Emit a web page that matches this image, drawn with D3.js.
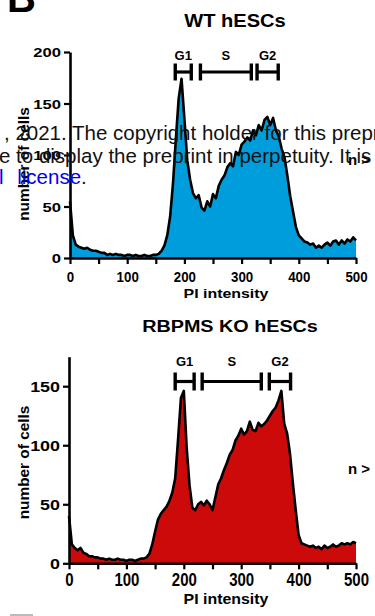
<!DOCTYPE html>
<html>
<head>
<meta charset="utf-8">
<script src="https://cdn.jsdelivr.net/npm/d3@7"></script>
<style>
  html, body { margin: 0; padding: 0; background: #fff; }
  svg { display: block; font-family: "Liberation Sans", Arial, sans-serif; }
</style>
</head>
<body>
<div id="chart-area"></div>
<script>
// histogram bins (PI intensity), step 5
const piBins = d3.range(0, 505, 5);

const wtCounts = [
  55, 22, 13, 11, 10, 9, 10, 8, 7, 7,
  6, 5, 5, 3, 4, 3, 4, 3, 3, 2,
  3, 3, 2, 3, 2, 2, 3, 2, 2, 3,
  3, 4, 7, 12, 22, 40, 72, 115, 155, 174,
  135, 95, 76, 63, 58, 61, 49, 46, 55, 50,
  62, 58, 70, 76, 80, 88, 92, 89, 103, 100,
  110, 113, 117, 114, 124, 119, 129, 124, 134, 137,
  129, 136, 124, 118, 106, 98, 80, 60, 45, 30,
  22, 19, 16, 15, 13, 14, 10, 12, 10, 13,
  15, 12, 16, 17, 13, 17, 14, 18, 16, 20,
  17
];

const koCounts = [
  40, 16, 13, 11, 13, 9, 8, 6, 6, 5,
  5, 4, 4, 3, 4, 3, 3, 4, 3, 3,
  2, 3, 3, 2, 3, 4, 4, 5, 8, 16,
  27, 37, 42, 45, 48, 53, 60, 72, 105, 140,
  146, 98, 66, 47, 45, 50, 52, 49, 53, 50,
  45, 56, 67, 72, 79, 85, 92, 96, 104, 108,
  114, 109, 112, 120, 113, 112, 119, 116, 118, 121,
  125, 129, 132, 138, 146, 118, 110, 93, 68, 45,
  24, 17, 16, 15, 14, 15, 13, 14, 12, 15,
  13, 14, 16, 14, 15, 17, 16, 17, 16, 18,
  17
];

const phases = ['G1', 'S', 'G2'];
const wtGates = [[184, 212], [228, 317], [327, 364]];
const koGates = [[185, 218], [232, 335], [349, 386]];

const xTicks = [0, 50, 100, 150, 200, 250, 300, 350, 400, 450, 500];
const wtYTicks = [0, 50, 100, 150, 200];
const koYTicks = [0, 50, 100, 150];

const svg = d3.select('#chart-area')
  .append('svg')
  .attr('width', 375)
  .attr('height', 616);

// text with separate horizontal / vertical stretch
function label(parent, x, y, str, o) {
  let tr = `translate(${x},${y})`;
  if (o.rot) tr += ` rotate(${o.rot})`;
  tr += ` scale(${o.sx || 1},${o.sy || 1})`;
  return parent.append('text')
    .attr('transform', tr)
    .attr('text-anchor', o.anchor || 'middle')
    .attr('font-size', o.size)
    .attr('font-weight', o.weight || 'bold')
    .attr('fill', o.fill || '#000')
    .text(str);
}

function drawPanel(cfg) {
  const x = d3.scaleLinear().domain([0, 500]).range([cfg.left, 356]);
  const y = d3.scaleLinear().domain([0, cfg.yMax]).range([cfg.bottom, cfg.top]);
  const g = svg.append('g');

  const area = d3.area()
    .x((d, i) => x(piBins[i]))
    .y0(y(0))
    .y1(d => y(d));
  const line = d3.line()
    .x((d, i) => x(piBins[i]))
    .y(d => y(d));

  g.append('path')
    .datum(cfg.counts)
    .attr('d', area)
    .attr('fill', cfg.color);

  g.append('path')
    .datum(cfg.counts)
    .attr('d', line)
    .attr('fill', 'none')
    .attr('stroke', '#000')
    .attr('stroke-width', 2.6)
    .attr('stroke-linejoin', 'round');

  // axes
  const xAxisCall = d3.axisBottom(x)
    .tickValues(xTicks)
    .tickSize(6)
    .tickSizeOuter(0)
    .tickFormat(d => d % 100 === 0 ? d : '');
  const yAxisCall = d3.axisLeft(y)
    .tickValues(cfg.yTicks)
    .tickSize(6)
    .tickSizeOuter(0);

  const xAxisGroup = g.append('g')
    .attr('transform', `translate(0, ${cfg.bottom})`)
    .call(xAxisCall);
  const yAxisGroup = g.append('g')
    .attr('transform', `translate(${cfg.left}, 0)`)
    .call(yAxisCall);

  [xAxisGroup, yAxisGroup].forEach(ax => {
    ax.select('.domain').attr('stroke-width', 2.6).attr('stroke', '#000');
    ax.selectAll('.tick line').attr('stroke-width', 2.2).attr('stroke', '#000');
    ax.selectAll('text')
      .attr('font-family', null)
      .attr('font-weight', 'bold')
      .attr('fill', '#000');
  });

  xAxisGroup.selectAll('text')
    .attr('font-size', cfg.xTickSize)
    .attr('dy', null)
    .attr('y', 0)
    .attr('transform', `translate(0, ${cfg.xTickBase}) scale(${cfg.xTickSx}, ${cfg.xTickSy})`);

  yAxisGroup.selectAll('text')
    .attr('font-size', cfg.yTickSize)
    .attr('x', -9 / cfg.yTickSx)
    .attr('dy', '0.36em')
    .attr('transform', `scale(${cfg.yTickSx}, 1)`);

  // gates
  const capH = cfg.capH;
  cfg.gates.forEach((gate, i) => {
    const x0 = x(gate[0]);
    const x1 = x(gate[1]);
    g.append('line')
      .attr('x1', x0).attr('x2', x1)
      .attr('y1', cfg.gateY).attr('y2', cfg.gateY)
      .attr('stroke', '#000').attr('stroke-width', 3.2);
    [x0, x1].forEach(xx => {
      g.append('line')
        .attr('x1', xx).attr('x2', xx)
        .attr('y1', cfg.gateY - capH / 2).attr('y2', cfg.gateY + capH / 2)
        .attr('stroke', '#000').attr('stroke-width', 3.4);
    });
    label(g, (x0 + x1) / 2, cfg.phaseBase, phases[i], { size: 13 });
  });

  // titles
  label(g, cfg.titleX, cfg.titleBase, cfg.title, { size: cfg.titleSize, sx: cfg.titleSx });
  label(g, 226, cfg.xTitleBase, 'PI intensity', { size: cfg.xTitleSize, sx: 1.18, sy: cfg.xTitleSy });
  label(g, 29, cfg.yTitleMid, 'number of cells', { size: 14, rot: -90, sx: 1.1 });
  label(g, 348, cfg.nBase, 'n >', { size: 15, anchor: 'start' });
}

drawPanel({
  title: 'WT hESCs', titleX: 235, titleBase: 26.7, titleSize: 18.6, titleSx: 1.08,
  counts: wtCounts, color: '#009ddc', gates: wtGates,
  yMax: 200, yTicks: wtYTicks,
  left: 70, top: 52, bottom: 258,
  xTickSize: 14, xTickSx: 0.95, xTickSy: 1, xTickBase: 24,
  yTickSize: 13, yTickSx: 1.28,
  gateY: 72, capH: 17, phaseBase: 60,
  xTitleBase: 297.5, xTitleSize: 13.5, xTitleSy: 1,
  yTitleMid: 164, nBase: 165
});

drawPanel({
  title: 'RBPMS KO hESCs', titleX: 230, titleBase: 332.3, titleSize: 17.2, titleSx: 1.15,
  counts: koCounts, color: '#cc0a0a', gates: koGates,
  yMax: 175, yTicks: koYTicks,
  left: 69, top: 356.7, bottom: 563.3,
  xTickSize: 15, xTickSx: 1, xTickSy: 1.2, xTickBase: 23,
  yTickSize: 14, yTickSx: 1.28,
  gateY: 381.5, capH: 18, phaseBase: 366,
  xTitleBase: 603.5, xTitleSize: 13.5, xTitleSy: 1.1,
  yTitleMid: 462.5, nBase: 474
});

// preprint notice bleeding over the panel
const notice = svg.append('g')
  .attr('font-size', 20.5)
  .attr('fill', '#111');
notice.append('text').attr('x', 4).attr('y', 140)
  .text(', 2021. The copyright holder for this preprint');
notice.append('text').attr('x', -1).attr('y', 162.5)
  .text('e to display the preprint in perpetuity. It is made');
const l3 = notice.append('text').attr('x', -1).attr('y', 184);
l3.append('tspan').attr('fill', '#0000ee').text('l');
l3.append('tspan').attr('fill', '#0000ee').attr('dx', 8).text(' license');
l3.append('tspan').text('.');

// panel letter
svg.append('text')
  .attr('x', 7).attr('y', 12)
  .attr('font-size', 40)
  .attr('font-weight', 'bold')
  .text('B');

svg.append('rect')
  .attr('x', 10).attr('y', 614)
  .attr('width', 23).attr('height', 2)
  .attr('fill', '#bbb');
</script>
</body>
</html>
